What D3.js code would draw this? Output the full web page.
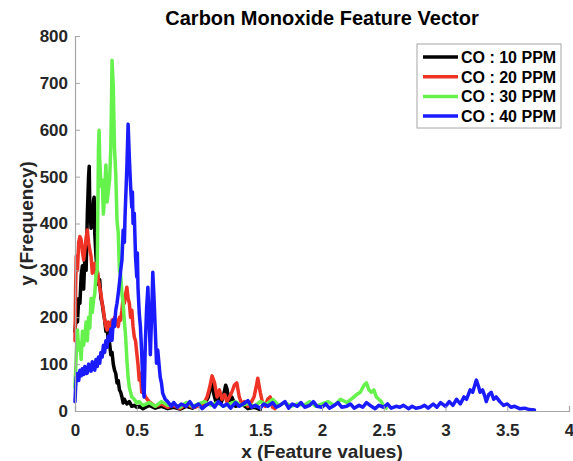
<!DOCTYPE html>
<html>
<head>
<meta charset="utf-8">
<script src="https://cdn.jsdelivr.net/npm/d3@7"></script>
<style>
  body { margin: 0; background: #fff; }
  text { font-family: "Liberation Sans", Arial, Helvetica, sans-serif; font-weight: bold; }
</style>
</head>
<body>
<div id="chart"></div>
<script>
// values, [feature value, frequency]
var co10 = [[0,170],[0.01,205],[0.02,190],[0.03,240],[0.04,230],[0.05,290],[0.06,310],[0.07,260],[0.08,330],[0.09,300],[0.10,420],[0.11,500],[0.115,522],[0.12,430],[0.13,390],[0.14,410],[0.15,450],[0.155,456],[0.16,380],[0.17,330],[0.18,300],[0.19,270],[0.20,280],[0.21,240],[0.22,230],[0.23,210],[0.24,195],[0.25,170],[0.26,175],[0.27,150],[0.28,145],[0.29,120],[0.30,125],[0.31,100],[0.32,87],[0.33,80],[0.34,60],[0.35,65],[0.36,45],[0.37,40],[0.38,30],[0.39,17],[0.40,25],[0.42,15],[0.44,20],[0.46,10],[0.48,12],[0.50,8],
  [0.52,10],[0.55,5],[0.6,12],[0.65,6],[0.7,10],[0.75,5],[0.8,8],[0.85,4],[0.9,10],[0.95,6],[1.0,12],[1.03,8],[1.06,20],[1.08,30],[1.1,55],[1.11,66],[1.12,40],[1.14,20],[1.16,35],[1.18,15],[1.2,30],[1.22,55],[1.23,48],[1.25,20],[1.27,30],[1.3,10],[1.35,15],[1.4,5],[1.45,8],[1.5,3]];

var co20 = [[0,150],[0.005,260],[0.01,330],[0.02,300],[0.03,360],[0.04,372],[0.05,365],[0.06,340],[0.07,322],[0.08,345],[0.09,370],[0.10,386],[0.11,360],[0.12,343],[0.13,330],[0.14,294],[0.15,310],[0.16,315],[0.17,290],[0.18,300],[0.19,280],[0.20,264],[0.21,250],[0.22,230],[0.23,215],[0.24,194],[0.25,180],[0.26,173],[0.27,190],[0.28,175],[0.29,180],[0.30,194],[0.31,179],[0.32,200],[0.33,185],[0.34,194],[0.35,180],[0.36,200],[0.37,194],[0.38,215],[0.39,243],[0.40,230],[0.41,250],[0.42,264],[0.43,240],[0.44,230],[0.45,200],[0.46,215],[0.47,180],[0.48,158],[0.49,150],[0.50,124],[0.51,100],[0.52,66],[0.53,80],[0.54,40],[0.55,45],[0.57,30],[0.6,20],
  [0.65,10],[0.7,15],[0.75,8],[0.8,12],[0.85,5],[0.9,15],[0.95,8],[1.0,10],[1.04,15],[1.07,30],[1.09,50],[1.11,75],[1.13,60],[1.15,30],[1.17,45],[1.19,25],[1.21,35],[1.23,20],[1.25,30],[1.27,40],[1.29,55],[1.31,60],[1.33,30],[1.35,15],[1.37,20],[1.4,10],[1.43,20],[1.45,30],[1.47,55],[1.48,70],[1.5,40],[1.52,15],[1.54,10],[1.56,25],[1.58,30],[1.6,8],[1.62,5]];

var co30 = [[0,50],[0.01,120],[0.02,173],[0.03,130],[0.04,145],[0.05,110],[0.06,170],[0.07,140],[0.08,162],[0.09,190],[0.10,150],[0.11,200],[0.12,177],[0.13,240],[0.14,210],[0.15,237],[0.16,250],[0.17,290],[0.18,300],[0.19,560],[0.195,599],[0.20,540],[0.21,480],[0.22,493],[0.23,420],[0.24,465],[0.25,525],[0.26,446],[0.27,470],[0.28,493],[0.29,560],[0.30,748],[0.31,690],[0.32,560],[0.33,507],[0.34,407],[0.35,380],[0.36,300],[0.37,290],[0.38,250],[0.39,230],[0.40,190],[0.41,158],[0.42,110],[0.43,72],[0.44,50],[0.46,30],[0.48,25],[0.50,17],
  [0.52,20],[0.55,12],[0.6,18],[0.65,10],[0.7,20],[0.75,12],[0.8,15],[0.85,8],[0.9,18],[0.95,10],[1.0,15],[1.05,20],[1.1,12],[1.15,18],[1.2,10],[1.25,15],[1.3,20],[1.35,12],[1.4,16],[1.45,10],[1.5,20],[1.55,14],[1.6,25],[1.65,12],[1.7,18],[1.75,10],[1.8,15],[1.85,12],[1.9,20],[1.95,10],[2.0,15],[2.05,20],[2.1,12],[2.15,25],[2.2,18],[2.25,28],[2.28,35],[2.31,40],[2.34,55],[2.36,60],[2.38,45],[2.40,40],[2.42,45],[2.44,30],[2.46,25],[2.48,20],[2.5,10],[2.52,6]];

var co40 = [[0,20],[0.005,50],[0.01,72],[0.02,80],[0.03,65],[0.04,87],[0.05,75],[0.06,90],[0.07,78],[0.08,95],[0.09,80],[0.10,81],[0.11,100],[0.12,94],[0.13,85],[0.14,105],[0.15,90],[0.16,87],[0.17,110],[0.18,95],[0.19,115],[0.20,102],[0.21,125],[0.22,115],[0.23,140],[0.24,125],[0.25,150],[0.26,136],[0.27,160],[0.28,150],[0.29,175],[0.30,151],[0.31,194],[0.32,180],[0.33,215],[0.34,230],[0.35,250],[0.36,273],[0.37,300],[0.38,322],[0.39,386],[0.40,360],[0.405,414],[0.41,450],[0.42,520],[0.43,612],[0.44,540],[0.45,480],[0.46,435],[0.465,467],[0.47,400],[0.48,422],[0.49,330],[0.50,286],[0.505,337],[0.51,264],[0.52,209],[0.53,179],[0.54,124],[0.55,51],[0.56,30],[0.57,150],[0.58,220],[0.59,264],[0.60,194],[0.61,120],[0.62,200],[0.63,296],[0.64,240],[0.65,173],[0.66,102],[0.67,130],[0.69,72],[0.70,60],[0.71,38],[0.73,25],
  [0.75,20],[0.78,10],[0.8,18],[0.83,8],[0.86,15],[0.9,10],[0.93,20],[0.96,8],[1.0,15],[1.03,5],[1.06,12],[1.1,18],[1.13,8],[1.16,20],[1.2,10],[1.23,15],[1.26,6],[1.3,18],[1.33,10],[1.36,15],[1.4,22],[1.43,8],[1.46,12],[1.5,6],[1.53,15],[1.56,10],[1.6,18],[1.63,8],[1.66,12],[1.7,20],[1.73,6],[1.76,15],[1.8,10],[1.83,18],[1.86,8],[1.9,12],[1.93,20],[1.96,10],
  [2.0,8],[2.03,15],[2.06,6],[2.1,12],[2.13,18],[2.16,8],[2.2,10],[2.23,15],[2.26,6],[2.3,12],[2.33,8],[2.36,18],[2.4,10],[2.43,5],[2.46,12],[2.5,8],[2.53,15],[2.56,6],[2.6,10],[2.63,8],[2.66,12],[2.7,5],[2.73,10],[2.76,6],[2.8,8],[2.83,12],[2.86,6],[2.9,15],[2.93,8],[2.96,18],
  [3.0,10],[3.03,20],[3.06,12],[3.09,25],[3.12,15],[3.15,30],[3.17,25],[3.2,45],[3.22,40],[3.25,66],[3.27,50],[3.28,40],[3.3,45],[3.32,30],[3.33,20],[3.35,35],[3.37,40],[3.39,25],[3.41,30],[3.44,20],[3.47,12],[3.5,15],[3.53,8],[3.56,10],[3.6,5],[3.64,6],[3.68,3],[3.72,2]];

var seriesNames = ['CO : 10 PPM','CO : 20 PPM','CO : 30 PPM','CO : 40 PPM'];
var seriesColors = ['#000000','#ee3326','#66f24c','#1b1bff'];
var xTicks = [0,0.5,1,1.5,2,2.5,3,3.5,4];
var yTicks = [0,100,200,300,400,500,600,700,800];

var allData = [co10, co20, co30, co40];

var width = 573, height = 461,
	plotLeft = 75, plotRight = 569, plotTop = 36, plotBottom = 411;

var svg = d3.select('#chart').append('svg')
	.attr('width', width)
	.attr('height', height);

var x = d3.scaleLinear().domain([0,4]).range([plotLeft,plotRight]),
	y = d3.scaleLinear().domain([0,800]).range([plotBottom,plotTop]);

var series = seriesNames.map(function(name,i){
	return {name:name, color:seriesColors[i], points:allData[i]};
});

var line = d3.line()
	.x(function(d){ return x(d[0]); })
	.y(function(d){ return y(d[1]); });

svg.append('g').selectAll('path')
	.data(series)
	.enter()
	.append('path')
	.attr('d', function(d){ return line(d.points); })
	.attr('fill','none')
	.attr('stroke', function(d){ return d.color; })
	.attr('stroke-width', 3.5)
	.attr('stroke-linejoin','round')
	.attr('stroke-linecap','round');

// axes, matlab style: ticks inside, no box
var xAxis = svg.append('g')
	.attr('transform','translate(0,'+plotBottom+')')
	.call(d3.axisBottom(x).tickValues(xTicks).tickSize(-5).tickPadding(13).tickFormat(d3.format('')));
var yAxis = svg.append('g')
	.attr('transform','translate('+plotLeft+',0)')
	.call(d3.axisLeft(y).tickValues(yTicks).tickSize(-5).tickPadding(7));

[xAxis, yAxis].forEach(function(a){
	a.select('.domain').attr('stroke','#a6a6a6').attr('stroke-width',1.2);
	a.selectAll('.tick line').attr('stroke','#a6a6a6');
	a.selectAll('.tick text')
	 .attr('fill','#262626')
	 .style('font-size','17px')
	 .style('font-family','"Liberation Sans", Arial, sans-serif')
	 .style('font-weight','bold');
});

svg.append('text')
	.attr('x', (plotLeft+plotRight)/2)
	.attr('y', 25)
	.attr('text-anchor','middle')
	.style('font-size','20px')
	.attr('fill','#000')
	.text('Carbon Monoxide Feature Vector');

svg.append('text')
	.attr('x', (plotLeft+plotRight)/2)
	.attr('y', 458)
	.attr('text-anchor','middle')
	.style('font-size','19px')
	.attr('fill','#262626')
	.text('x (Feature values)');

svg.append('text')
	.attr('transform','translate(33,'+((plotTop+plotBottom)/2)+') rotate(-90)')
	.attr('text-anchor','middle')
	.style('font-size','19px')
	.attr('fill','#262626')
	.text('y (Frequency)');

// legend
var legend = svg.append('g');
legend.append('rect')
	.attr('x',417).attr('y',44)
	.attr('width',144).attr('height',84)
	.attr('fill','#fff')
	.attr('stroke','#a6a6a6');
var item = legend.selectAll('.item')
	.data(series)
	.enter()
	.append('g')
	.attr('transform', function(d,i){ return 'translate(0,'+(57+i*19.7)+')'; });
item.append('line')
	.attr('x1',423).attr('x2',458)
	.attr('stroke', function(d){ return d.color; })
	.attr('stroke-width',3.5);
item.append('text')
	.attr('x',461).attr('y',6)
	.style('font-size','16px')
	.attr('fill','#000')
	.text(function(d){ return d.name; });
</script>
</body>
</html>
